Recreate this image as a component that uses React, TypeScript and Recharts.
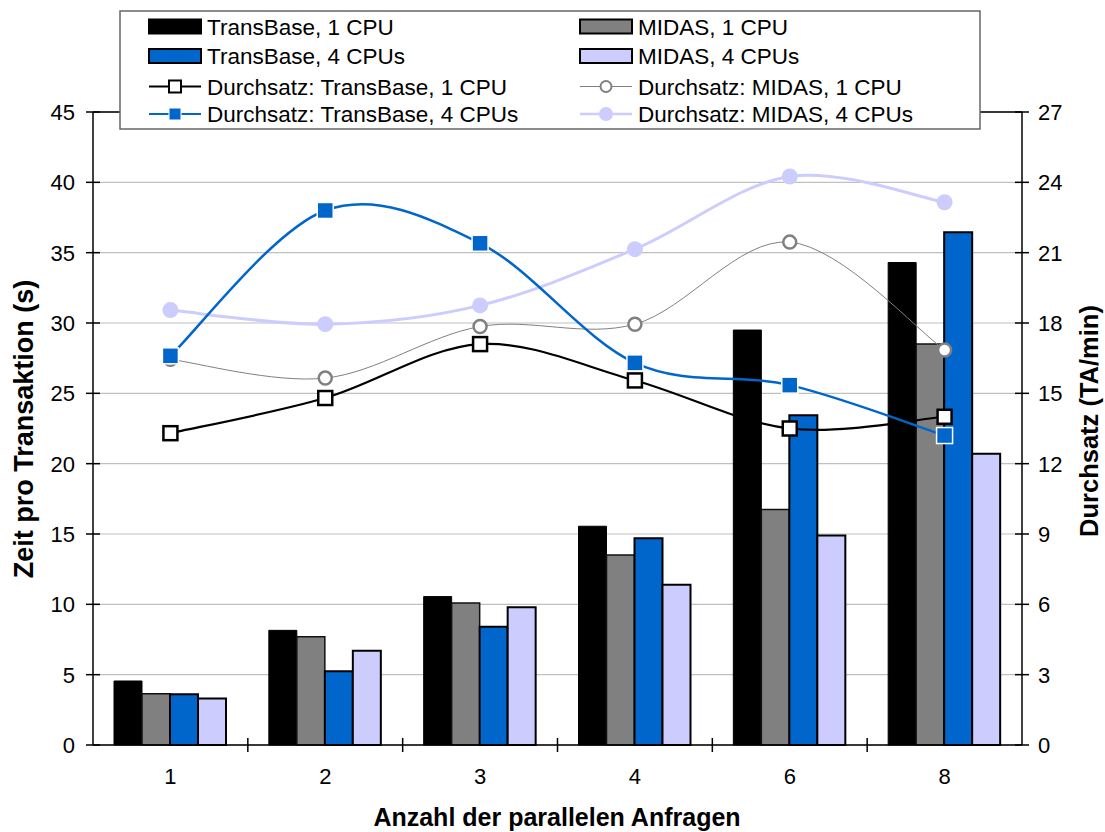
import {
  ComposedChart,
  Bar,
  Line,
  XAxis,
  YAxis,
  CartesianGrid,
  ReferenceLine,
} from "recharts";

// Anzahl der parallelen Anfragen
const categories = ["1", "2", "3", "4", "6", "8"];

// Zeit pro Transaktion (s) – linke Achse
const timeTransBase1 = [4.55, 8.15, 10.55, 15.55, 29.5, 34.3];
const timeMidas1 = [3.65, 7.7, 10.1, 13.5, 16.75, 28.5];
const timeTransBase4 = [3.6, 5.25, 8.4, 14.7, 23.45, 36.45];
const timeMidas4 = [3.3, 6.7, 9.8, 11.4, 14.9, 20.7];

// Durchsatz (TA/min) – rechte Achse
const tputTransBase1 = [13.3, 14.8, 17.1, 15.55, 13.5, 14.0];
const tputMidas1 = [16.45, 15.65, 17.85, 17.95, 21.45, 16.85];
const tputTransBase4 = [16.6, 22.8, 21.4, 16.3, 15.35, 13.2];
const tputMidas4 = [18.55, 17.95, 18.75, 21.15, 24.25, 23.15];

const leftTicks = [0, 5, 10, 15, 20, 25, 30, 35, 40, 45];
const rightTicks = [0, 3, 6, 9, 12, 15, 18, 21, 24, 27];

const W = 1105;
const H = 832;
const PLOT_LEFT = 93;
const PLOT_RIGHT = 1022;
const PLOT_TOP = 112;
const PLOT_BOTTOM = 745;
const BAND = (PLOT_RIGHT - PLOT_LEFT) / categories.length;
const FONT = '"Liberation Sans", Arial, sans-serif';

const data = categories.map((c, i) => ({
  cat: c,
  tb1: timeTransBase1[i],
  m1: timeMidas1[i],
  tb4: timeTransBase4[i],
  m4: timeMidas4[i],
  ttb1: tputTransBase1[i],
  tm1: tputMidas1[i],
  ttb4: tputTransBase4[i],
  tm4: tputMidas4[i],
}));

// Excel-artige Glättung (Catmull-Rom als Bezier)
function smoothCurve(context: any) {
  let pts: number[][] = [];
  return {
    areaStart() {},
    areaEnd() {},
    lineStart() {
      pts = [];
    },
    point(x: number, y: number) {
      pts.push([+x, +y]);
    },
    lineEnd() {
      if (!pts.length) return;
      context.moveTo(pts[0][0], pts[0][1]);
      for (let i = 0; i < pts.length - 1; i++) {
        const p0 = pts[i - 1] || pts[i];
        const p1 = pts[i];
        const p2 = pts[i + 1];
        const p3 = pts[i + 2] || pts[i + 1];
        context.bezierCurveTo(
          p1[0] + (p2[0] - p0[0]) / 6,
          p1[1] + (p2[1] - p0[1]) / 6,
          p2[0] - (p3[0] - p1[0]) / 6,
          p2[1] - (p3[1] - p1[1]) / 6,
          p2[0],
          p2[1],
        );
      }
    },
  };
}

const WhiteSquare = (p: any) =>
  p.cx == null ? <g key={p.key} /> : (
    <rect key={p.key} x={p.cx - 7} y={p.cy - 7} width={14} height={14} fill="#fff" stroke="#000" strokeWidth={2.5} />
  );
const BlueSquare = (p: any) =>
  p.cx == null ? <g key={p.key} /> : (
    <rect key={p.key} x={p.cx - 8} y={p.cy - 8} width={16} height={16} fill="#0066cc" stroke="#fff" strokeWidth={1.5} />
  );
const GrayCircle = (p: any) =>
  p.cx == null ? <g key={p.key} /> : (
    <circle key={p.key} cx={p.cx} cy={p.cy} r={6.5} fill="#fff" stroke="#808080" strokeWidth={2.5} />
  );
const LavenderDot = (p: any) =>
  p.cx == null ? <g key={p.key} /> : <circle key={p.key} cx={p.cx} cy={p.cy} r={8} fill="#ccccff" />;

const LeftTick = (p: any) => {
  const ax = p.x + 10;
  return (
    <g>
      <line x1={ax - 7} x2={ax + 7} y1={p.y} y2={p.y} stroke="#000" strokeWidth={1.5} />
      <text x={ax - 18} y={p.y + 8} textAnchor="end" fontSize={22} fontFamily={FONT} fill="#000">
        {p.payload.value}
      </text>
    </g>
  );
};

const RightTick = (p: any) => {
  const ax = p.x - 10;
  return (
    <g>
      <line x1={ax - 7} x2={ax + 7} y1={p.y} y2={p.y} stroke="#000" strokeWidth={1.5} />
      <text x={ax + 16} y={p.y + 8} textAnchor="start" fontSize={22} fontFamily={FONT} fill="#000">
        {p.payload.value}
      </text>
    </g>
  );
};

const BottomTick = (p: any) => (
  <g>
    {p.index > 0 && (
      <line x1={p.x - BAND / 2} x2={p.x - BAND / 2} y1={PLOT_BOTTOM - 7} y2={PLOT_BOTTOM + 7} stroke="#000" strokeWidth={1.5} />
    )}
    <text x={p.x} y={PLOT_BOTTOM + 39} textAnchor="middle" fontSize={22} fontFamily={FONT} fill="#000">
      {p.payload.value}
    </text>
  </g>
);

type LegendItem = { label: string; kind: "bar" | "line"; color: string; marker?: string };

const legendItems: LegendItem[] = [
  { label: "TransBase, 1 CPU", kind: "bar", color: "#000000" },
  { label: "MIDAS, 1 CPU", kind: "bar", color: "#808080" },
  { label: "TransBase, 4 CPUs", kind: "bar", color: "#0066cc" },
  { label: "MIDAS, 4 CPUs", kind: "bar", color: "#ccccff" },
  { label: "Durchsatz: TransBase, 1 CPU", kind: "line", color: "#000000", marker: "whiteSquare" },
  { label: "Durchsatz: MIDAS, 1 CPU", kind: "line", color: "#808080", marker: "grayCircle" },
  { label: "Durchsatz: TransBase, 4 CPUs", kind: "line", color: "#0066cc", marker: "blueSquare" },
  { label: "Durchsatz: MIDAS, 4 CPUs", kind: "line", color: "#ccccff", marker: "lavenderDot" },
];

function LegendBox() {
  const bx = 120;
  const by = 11;
  const colX = [149, 580];
  const rowY = [26.5, 56, 86.5, 114];
  return (
    <g>
      <rect x={bx} y={by} width={860} height={118} fill="#fff" stroke="#666" strokeWidth={1.5} />
      {legendItems.map((it, i) => {
        const x = colX[i % 2];
        const y = rowY[Math.floor(i / 2)];
        const mx = x + 26;
        let swatch;
        if (it.kind === "bar") {
          swatch = (
            <rect x={x} y={y - 7} width={52} height={14} fill={it.color} stroke="#000" strokeWidth={2} />
          );
        } else {
          const lw = it.marker === "grayCircle" ? 1 : it.marker === "lavenderDot" ? 2.5 : 2;
          let m;
          if (it.marker === "whiteSquare") m = <rect x={mx - 6} y={y - 6} width={12} height={12} fill="#fff" stroke="#000" strokeWidth={2} />;
          else if (it.marker === "blueSquare") m = <rect x={mx - 6} y={y - 6} width={12} height={12} fill="#0066cc" stroke="#fff" strokeWidth={1} />;
          else if (it.marker === "grayCircle") m = <circle cx={mx} cy={y} r={5.5} fill="#fff" stroke="#808080" strokeWidth={2} />;
          else m = <circle cx={mx} cy={y} r={7} fill="#ccccff" />;
          swatch = (
            <g>
              <line x1={x} x2={x + 52} y1={y} y2={y} stroke={it.color} strokeWidth={lw} />
              {m}
            </g>
          );
        }
        return (
          <g key={it.label}>
            {swatch}
            <text x={x + 58} y={y + 8} fontSize={22.5} fontFamily={FONT} fill="#000">
              {it.label}
            </text>
          </g>
        );
      })}
    </g>
  );
}

export default function App() {
  return (
    <div style={{ position: "relative", width: W, height: H, background: "#fff" }}>
      <style>{"body{margin:0}"}</style>
      <ComposedChart
        width={W}
        height={H}
        data={data}
        margin={{ top: PLOT_TOP, right: W - PLOT_RIGHT - 70, bottom: H - PLOT_BOTTOM - 50, left: PLOT_LEFT - 80 }}
        barCategoryGap={21}
        barGap={0}
      >
        <CartesianGrid yAxisId="left" vertical={false} stroke="#c0c0c0" strokeWidth={1.2} />
        <XAxis
          dataKey="cat"
          height={50}
          axisLine={{ stroke: "#000", strokeWidth: 1.5 }}
          tickLine={false}
          tickSize={0}
          tickMargin={0}
          tick={BottomTick}
          interval={0}
          label={{
            content: () => (
              <text x={557} y={826} textAnchor="middle" fontSize={25} fontWeight="bold" fontFamily={FONT} fill="#000">
                Anzahl der parallelen Anfragen
              </text>
            ),
          }}
        />
        <YAxis
          yAxisId="left"
          width={80}
          domain={[0, 45]}
          ticks={leftTicks}
          axisLine={{ stroke: "#000", strokeWidth: 1.5 }}
          tickLine={false}
          tickSize={0}
          tickMargin={10}
          tick={LeftTick}
          label={{
            content: () => (
              <text x={33} y={429} transform="rotate(-90 33 429)" textAnchor="middle" fontSize={27} fontWeight="bold" fontFamily={FONT} fill="#000">
                Zeit pro Transaktion (s)
              </text>
            ),
          }}
        />
        <YAxis
          yAxisId="right"
          orientation="right"
          width={70}
          domain={[0, 27]}
          ticks={rightTicks}
          axisLine={{ stroke: "#000", strokeWidth: 1.5 }}
          tickLine={false}
          tickSize={0}
          tickMargin={10}
          tick={RightTick}
          label={{
            content: () => (
              <text x={1098} y={421} transform="rotate(-90 1098 421)" textAnchor="middle" fontSize={25.5} fontWeight="bold" fontFamily={FONT} fill="#000">
                Durchsatz (TA/min)
              </text>
            ),
          }}
        />
        <ReferenceLine yAxisId="left" y={45} stroke="#000" strokeWidth={1.5} />

        <Bar yAxisId="left" dataKey="tb1" name="TransBase, 1 CPU" fill="#000000" stroke="#000" strokeWidth={1} isAnimationActive={false} />
        <Bar yAxisId="left" dataKey="m1" name="MIDAS, 1 CPU" fill="#808080" stroke="#111" strokeWidth={1.5} isAnimationActive={false} />
        <Bar yAxisId="left" dataKey="tb4" name="TransBase, 4 CPUs" fill="#0066cc" stroke="#000" strokeWidth={2} isAnimationActive={false} />
        <Bar yAxisId="left" dataKey="m4" name="MIDAS, 4 CPUs" fill="#ccccff" stroke="#000" strokeWidth={2} isAnimationActive={false} />

        <Line yAxisId="right" dataKey="tm4" name="Durchsatz: MIDAS, 4 CPUs" type={smoothCurve as any} stroke="#ccccff" strokeWidth={3} dot={LavenderDot} activeDot={false} isAnimationActive={false} />
        <Line yAxisId="right" dataKey="tm1" name="Durchsatz: MIDAS, 1 CPU" type={smoothCurve as any} stroke="#808080" strokeWidth={1} dot={GrayCircle} activeDot={false} isAnimationActive={false} />
        <Line yAxisId="right" dataKey="ttb1" name="Durchsatz: TransBase, 1 CPU" type={smoothCurve as any} stroke="#000000" strokeWidth={2.2} dot={WhiteSquare} activeDot={false} isAnimationActive={false} />
        <Line yAxisId="right" dataKey="ttb4" name="Durchsatz: TransBase, 4 CPUs" type={smoothCurve as any} stroke="#0066cc" strokeWidth={2.5} dot={BlueSquare} activeDot={false} isAnimationActive={false} />
      </ComposedChart>
      <svg width={W} height={H} style={{ position: "absolute", left: 0, top: 0, pointerEvents: "none" }}>
        <LegendBox />
      </svg>
    </div>
  );
}
